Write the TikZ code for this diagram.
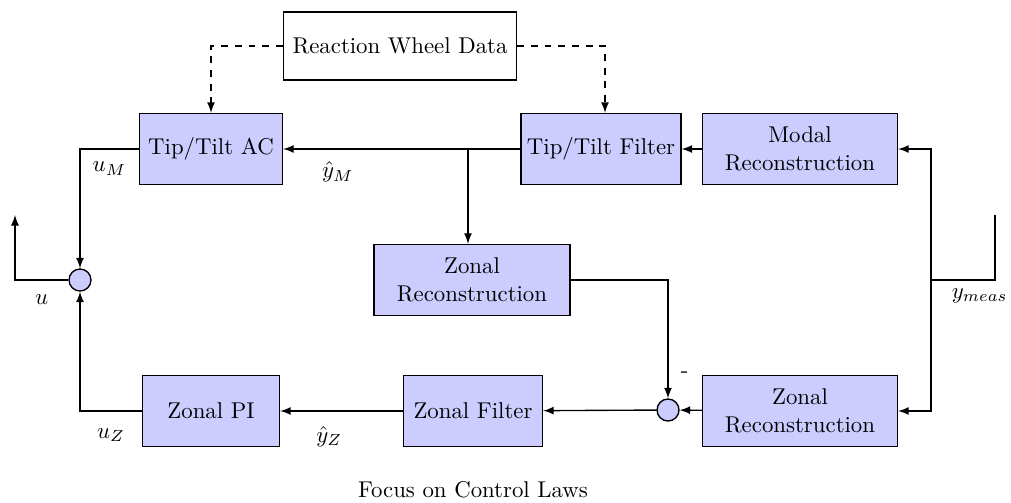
\documentclass[tikz,border=0pt]{standalone}
\usepackage{tikz}
\usetikzlibrary{arrows.meta}

\begin{document}
\begin{tikzpicture}[x=0.0154cm, y=-0.0154cm, >=latex, semithick,
    block/.style={draw, fill=blue!20, align=center, minimum height=71*0.0154cm, inner sep=2pt},
    sumnode/.style={draw, fill=blue!20, circle, minimum size=22*0.0154cm, inner sep=0pt}]
      \useasboundingbox (0,0) rectangle (1011,502);
      \node[draw, minimum width=233*0.0154cm, minimum height=68*0.0154cm] (rwd) at (400,46) {Reaction Wheel Data};
      \node[block, minimum width=143*0.0154cm] (ttac) at (211,149) {Tip/Tilt AC};
      \node[block, minimum width=160*0.0154cm] (ttf) at (601,149) {Tip/Tilt Filter};
      \node[block, minimum width=195*0.0154cm] (modal) at (800,149) {Modal\\Reconstruction};
      \node[block, minimum width=196*0.0154cm] (zrm) at (472,280) {Zonal\\Reconstruction};
      \node[sumnode] (sl) at (80,280) {};
      \node[sumnode] (sr) at (668,410) {};
      \node[block, minimum width=137*0.0154cm] (zpi) at (211,411) {Zonal PI};
      \node[block, minimum width=139*0.0154cm] (zf) at (473,411) {Zonal Filter};
      \node[block, minimum width=195*0.0154cm] (zrr) at (800,411) {Zonal\\Reconstruction};
      \node (cap) at (473,490) {Focus on Control Laws};
      % reaction wheel data
      \draw[dashed, ->] (rwd.west) -| (ttac.north);
      \draw[dashed, ->] (rwd.east) -| ([xshift=4*0.0154cm]ttf.north);
      % modal path
      \coordinate (ym) at (931,280);
      \coordinate (yin) at (995,215);
      \draw (yin) |- (ym) node[pos=0.62, below] {$y_{meas}$};
      \draw[->] (ym) |- (modal.east);
      \draw[->] (ym) |- (zrr.east);
      \draw[->] (modal) -- (ttf);
      \draw[->] (ttf) -- (ttac) node[pos=0.77, below=2pt] {$\hat{y}_M$};
      \coordinate (br) at (468,149);
      \draw[->] (br) -- (br |- zrm.north);
      \draw[->] (ttac.west) -| (sl.north) node[pos=0.25, below=2pt] {$u_M$};
      % zonal path
      \draw[->] (zrm.east) -| (sr.north) node[pos=0.9, right=2pt] {-};
      \draw[->] (zrr) -- (sr);
      \draw[->] (sr) -- (zf);
      \draw[->] (zf) -- (zpi) node[pos=0.6, below=3pt] {$\hat{y}_Z$};
      \draw[->] (zpi.west) -| (sl.south) node[pos=0.25, below=4pt] {$u_Z$};
      \coordinate (uout) at (15,215);
      \draw[->] (sl.west) -| (uout) node[pos=0.25, below=3pt] {$u$};
\end{tikzpicture}
\end{document}
